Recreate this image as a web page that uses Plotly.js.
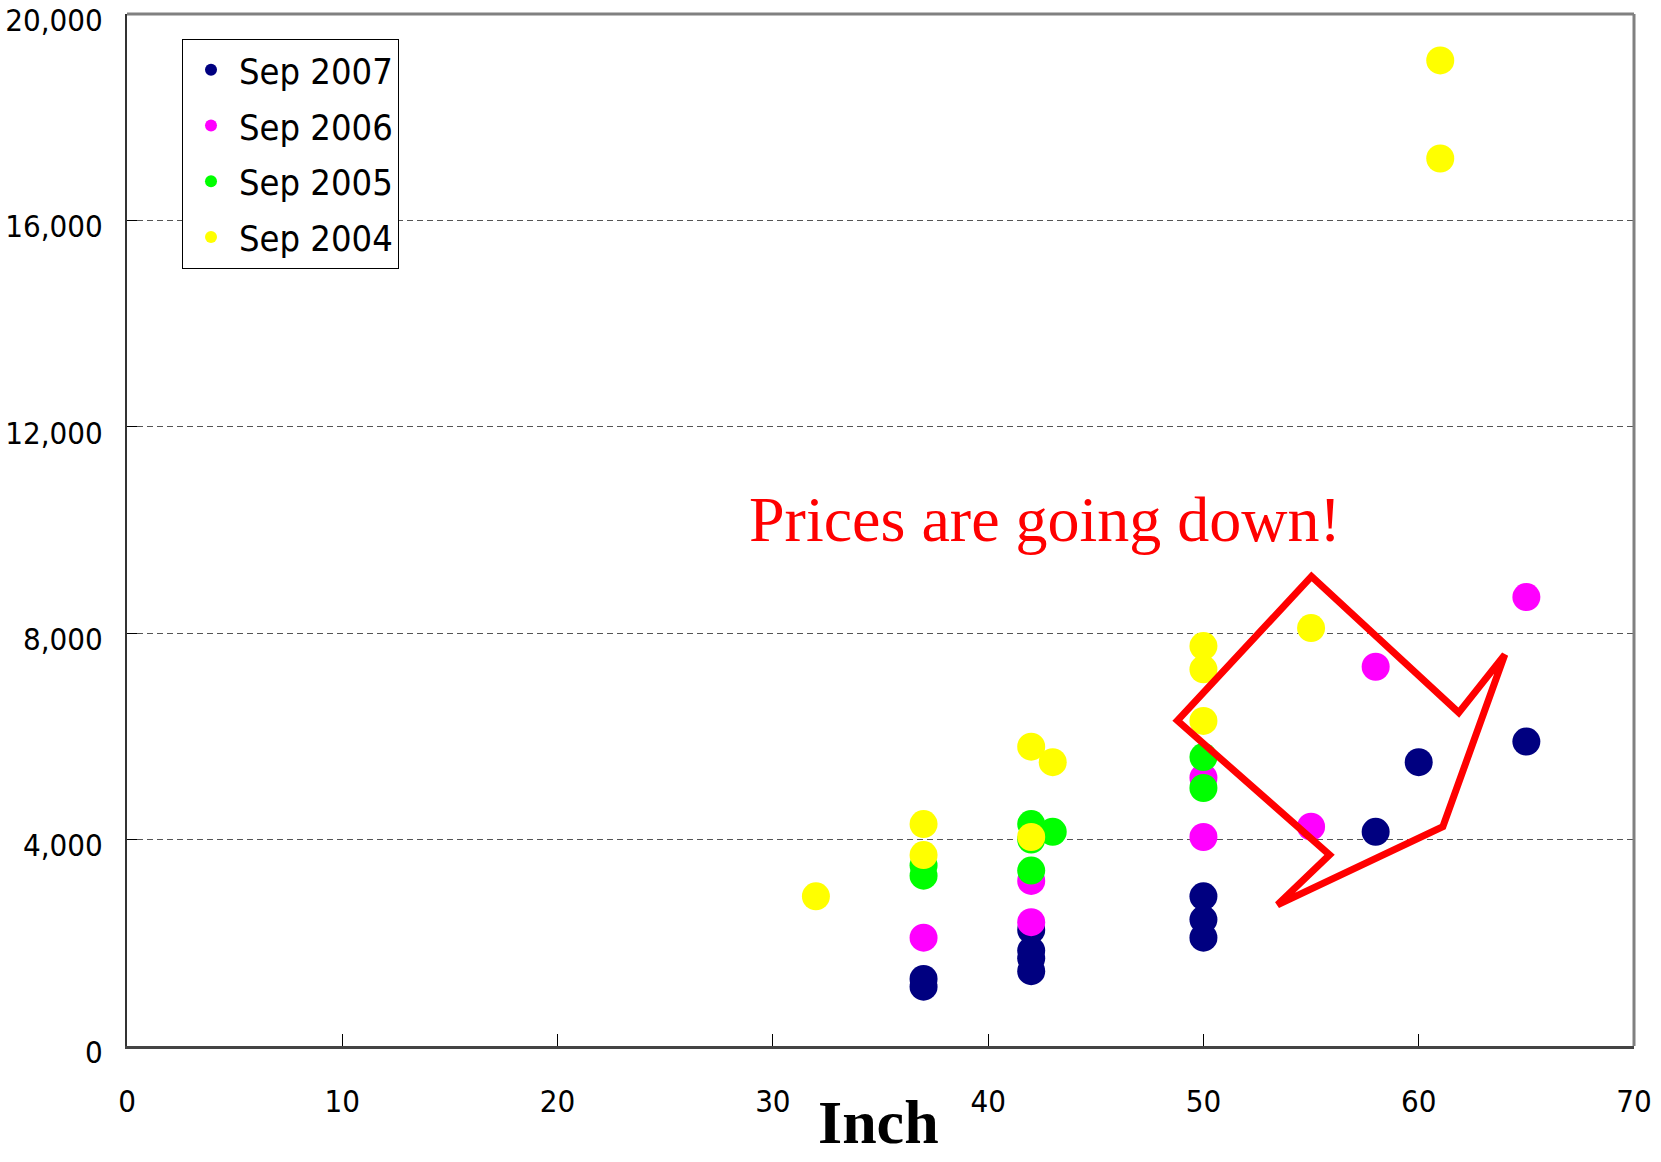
<!DOCTYPE html>
<html>
<head>
<meta charset="utf-8">
<script src="https://cdn.plot.ly/plotly-3.0.1.min.js"></script>
<style>html,body{margin:0;padding:0;background:#fff;}#chart{width:1661px;height:1162px;}</style>
</head>
<body>
<div id="chart"></div>
<script>
// Data (inch size vs price)
const seriesNames = ["Sep 2007", "Sep 2006", "Sep 2005", "Sep 2004"];
const seriesColors = ["#000080", "#FF00FF", "#00FF00", "#FFFF00"];

const x2007 = [37, 37, 42, 42, 42, 42, 50, 50, 50, 58, 60, 65];
const y2007 = [1300, 1150, 2250, 1850, 1700, 1450, 2900, 2450, 2100, 4150, 5500, 5900];

const x2006 = [37, 42, 42, 50, 50, 55, 58, 65];
const y2006 = [2100, 3200, 2400, 5200, 4050, 4250, 7350, 8700];

const x2005 = [37, 37, 42, 42, 42, 43, 50, 50];
const y2005 = [3500, 3300, 4300, 4000, 3400, 4150, 5600, 5000];

const x2004 = [32, 37, 37, 42, 42, 43, 50, 50, 50, 55, 61, 61];
const y2004 = [2900, 4300, 3700, 5800, 4050, 5500, 7750, 7300, 6300, 8100, 19100, 17200];

const xTickVals = [0, 10, 20, 30, 40, 50, 60, 70];
const yTickVals = [0, 4000, 8000, 12000, 16000, 20000];
const annotationText = "Prices are going down!";
const xTitle = "Inch";

const xs = [x2007, x2006, x2005, x2004];
const ys = [y2007, y2006, y2005, y2004];

const traces = seriesNames.map((name, i) => ({
  type: "scatter",
  mode: "markers",
  name: name,
  legendgroup: "g" + i,
  x: xs[i],
  y: ys[i],
  marker: { color: seriesColors[i], size: 28, line: { width: 0 } }
}));

const narrowFamily = "'DejaVu Sans Condensed', 'DejaVu Sans', sans-serif";
const tickFont = { family: narrowFamily, size: 31, color: "#000", stretch: "condensed" };

const layout = {
  width: 1661,
  height: 1162,
  margin: { l: 127, r: 27, t: 14, b: 116 },
  paper_bgcolor: "#fff",
  plot_bgcolor: "#fff",
  showlegend: true,
  legend: {
    x: 0.0365, y: 0.976, xanchor: "left", yanchor: "top",
    bgcolor: "#fff", bordercolor: "#000", borderwidth: 1,
    font: { family: narrowFamily, size: 36, color: "#000", stretch: "condensed" },
    tracegroupgap: 6,
    itemwidth: 46,
    itemsizing: "constant"
  },
  xaxis: {
    range: [0, 70],
    tickvals: xTickVals,
    ticks: "inside",
    ticklen: 12,
    tickwidth: 1,
    tickcolor: "#000",
    showline: true,
    linecolor: "#444",
    linewidth: 3,
    showgrid: false,
    zeroline: false,
    tickfont: tickFont,
    ticklabelstandoff: 26,
    ticklabeloverflow: "allow"
  },
  yaxis: {
    range: [0, 20000],
    tickvals: yTickVals,
    tickformat: ",d",
    ticks: "inside",
    ticklen: 10,
    tickwidth: 1,
    tickcolor: "#000",
    showline: true,
    linecolor: "#333",
    linewidth: 2,
    showgrid: true,
    gridcolor: "#555",
    gridwidth: 1.2,
    griddash: "6px,4px",
    zeroline: false,
    tickfont: tickFont,
    ticklabelstandoff: 16,
    ticklabelshift: 6,
    ticklabeloverflow: "allow"
  },
  shapes: [
    { type: "line", xref: "paper", yref: "paper", x0: 0, x1: 1, y0: 1, y1: 1, line: { color: "#808080", width: 3 } },
    { type: "line", xref: "paper", yref: "paper", x0: 1, x1: 1, y0: 0, y1: 1, line: { color: "#808080", width: 3 } },
    {
      type: "path", xref: "x", yref: "y", layer: "above",
      path: "M48.79,6306 L55.02,9100 L61.86,6461 L64.0,7586 L61.12,4249 L53.44,2736 L55.86,3706 Z",
      line: { color: "#FF0000", width: 7 },
      fillcolor: "rgba(0,0,0,0)"
    }
  ],
  annotations: [
    {
      text: annotationText,
      xref: "x", yref: "y",
      x: 42.65, y: 10200,
      xanchor: "center", yanchor: "middle",
      showarrow: false,
      font: { family: "'Liberation Serif', 'Times New Roman', serif", size: 64, color: "#FF0000" }
    },
    {
      text: "<b>" + xTitle + "</b>",
      xref: "paper", yref: "paper",
      x: 0.499, y: -0.074,
      xanchor: "center", yanchor: "middle",
      showarrow: false,
      font: { family: "'Liberation Serif', 'Times New Roman', serif", size: 62, color: "#000" }
    }
  ]
};

Plotly.newPlot("chart", traces, layout, { displayModeBar: false, staticPlot: true });
</script>
</body>
</html>
